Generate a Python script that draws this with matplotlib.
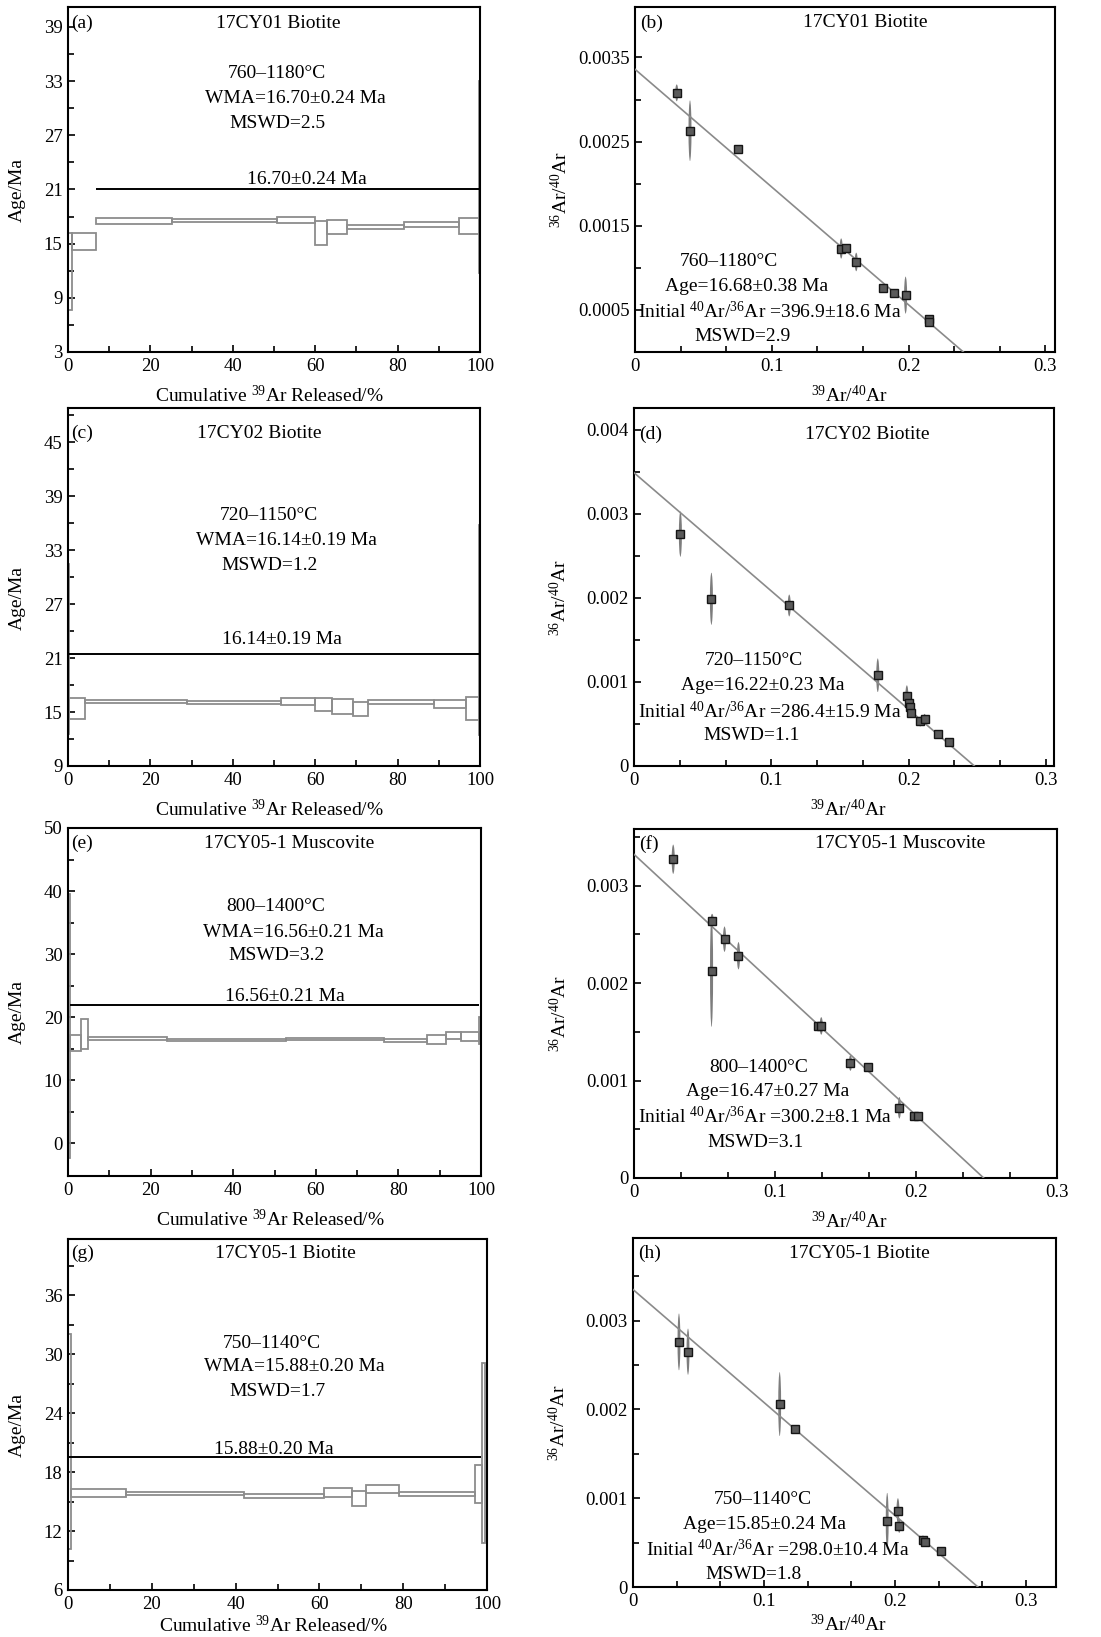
import matplotlib
matplotlib.use('Agg')
import matplotlib.pyplot as plt
from matplotlib.patches import Ellipse
from matplotlib.ticker import FixedLocator, AutoMinorLocator, FuncFormatter
import numpy as np

plt.rcParams['font.family'] = ['Liberation Serif', 'DejaVu Serif']
plt.rcParams['mathtext.fontset'] = 'custom'
plt.rcParams['mathtext.rm'] = 'Liberation Serif'
plt.rcParams['mathtext.it'] = 'Liberation Serif:italic'
plt.rcParams['mathtext.bf'] = 'Liberation Serif:bold'

# ---------------- data: age spectra ----------------
a_cum = [0, 1.0, 6.8, 25.2, 50.8, 60.0, 62.8, 67.8, 81.5, 95.0, 99.7, 100]
a_age = [11.95, 15.25, 17.5, 17.54, 17.6, 16.18, 16.87, 16.8, 17.13, 16.95, 22.35]
a_err = [4.25, 0.95, 0.3, 0.15, 0.37, 1.33, 0.77, 0.22, 0.3, 0.92, 10.65]
a_plat_y = 21.0
a_plat_x = [6.8, 100]

c_cum = [0, 0.3, 4.2, 28.9, 51.7, 60.0, 64.0, 69.1, 72.8, 88.8, 96.6, 99.8, 100]
c_age = [22.05, 15.4, 16.15, 16.05, 16.2, 15.85, 15.65, 15.35, 16.1, 15.9, 15.4, 24.15]
c_err = [9.45, 1.2, 0.15, 0.15, 0.4, 0.75, 0.85, 0.75, 0.2, 0.4, 1.3, 11.65]
c_plat_y = 21.5
c_plat_x = [0, 100]

e_cum = [0, 0.5, 3.1, 4.8, 24.0, 52.8, 76.4, 86.9, 91.5, 95.2, 99.5, 100]
e_age = [18.6, 15.9, 17.3, 16.65, 16.4, 16.5, 16.3, 16.4, 17.15, 16.95, 17.85]
e_err = [21.0, 1.3, 2.4, 0.25, 0.2, 0.2, 0.3, 0.7, 0.55, 0.75, 2.15]
e_plat_y = 21.85
e_plat_x = [0.5, 99.5]

g_cum = [0, 0.7, 13.9, 41.9, 61.0, 67.8, 71.1, 78.9, 97.2, 98.8, 99.6]
g_age = [21.1, 15.87, 15.85, 15.6, 15.9, 15.3, 16.25, 15.8, 16.75, 19.95]
g_err = [10.9, 0.4, 0.15, 0.2, 0.45, 0.8, 0.4, 0.2, 1.95, 9.15]
g_plat_y = 19.5
g_plat_x = [0, 98.6]

# ---------------- data: isochrons ----------------
b_x = [0.0305, 0.0402, 0.0751, 0.1507, 0.1541, 0.1617, 0.1815, 0.1895, 0.1978, 0.2151, 0.2151]
b_y = [0.00308, 0.00263, 0.00241, 0.00123, 0.00124, 0.00107, 0.000755, 0.0007, 0.000676, 0.00039, 0.00036]
b_e = [0.0001, 0.00036, 0.00005, 0.00012, 0.00004, 0.00011, 0.00004, 0.00003, 0.00022, 0.00005, 0.00004]
b_line = (0.00336, 0.240)   # (y-intercept, x-intercept)

d_x = [0.0338, 0.0564, 0.1131, 0.1776, 0.1988, 0.2007, 0.2012, 0.2019, 0.2085, 0.2117, 0.2212, 0.2297]
d_y = [0.00276, 0.00199, 0.00191, 0.00108, 0.00083, 0.00075, 0.0007, 0.00063, 0.00053, 0.00056, 0.00038, 0.00028]
d_e = [0.00027, 0.00031, 0.00013, 0.0002, 0.00013, 0.00004, 0.00004, 0.00004, 0.00006, 0.00006, 0.00003, 0.00003]
d_line = (0.00349, 0.248)

f_x = [0.0278, 0.0554, 0.055, 0.0642, 0.0741, 0.1304, 0.1328, 0.1535, 0.1658, 0.1882, 0.1983, 0.2014]
f_y = [0.00327, 0.00264, 0.00212, 0.00245, 0.00228, 0.00156, 0.00156, 0.00118, 0.00114, 0.00072, 0.00064, 0.00064]
f_e = [0.00015, 0.00007, 0.00057, 0.00013, 0.00014, 0.00004, 0.00009, 0.00008, 0.00004, 0.00011, 0.00003, 0.00003]
f_line = (0.00332, 0.248)

h_x = [0.0351, 0.042, 0.112, 0.1239, 0.1941, 0.2023, 0.2033, 0.2214, 0.2232, 0.2354]
h_y = [0.00276, 0.00265, 0.00206, 0.00178, 0.00074, 0.00086, 0.00069, 0.00053, 0.00051, 0.0004]
h_e = [0.00032, 0.00026, 0.00036, 0.00004, 0.00032, 0.00014, 0.00008, 0.00005, 0.00004, 0.00003]
h_line = (0.00335, 0.2634)

# ---------------- figure ----------------
W, H = 1101, 1637
fig = plt.figure(figsize=(W / 100, H / 100), dpi=100)

TXT = 14
TICK = 13.5
GRAY_BOX = '#8c8c8c'


def add_ax(l, r, t, b):
    ax = fig.add_axes([l / W, 1 - b / H, (r - l) / W, (b - t) / H])
    for s in ax.spines.values():
        s.set_linewidth(1.5)
        s.set_color('black')
    ax.tick_params(which='both', direction='in', labelsize=TICK, pad=4, width=1.2)
    ax.tick_params(which='major', length=5)
    ax.tick_params(which='minor', length=4)
    ax._px = (r - l, b - t)
    return ax


fmt = FuncFormatter(lambda v, p: '%g' % round(v, 6))


def spectrum(ax, cum, age, err, ply, plx, ylim, ymaj, ymin, tag, title, lines, plab, xl_off=33):
    cum = np.asarray(cum, float)
    age = np.asarray(age, float)
    err = np.asarray(err, float)
    ax.bar(cum[:-1], 2 * err, width=np.diff(cum), bottom=age - err, align='edge',
           fill=False, edgecolor=GRAY_BOX, linewidth=1.3, zorder=2)
    ax.hlines(ply, plx[0], plx[1], color='black', lw=1.4, zorder=3)
    ax.set_xlim(0, 100)
    ax.set_ylim(*ylim)
    ax.xaxis.set_major_locator(FixedLocator([0, 20, 40, 60, 80, 100]))
    ax.xaxis.set_minor_locator(FixedLocator([10, 30, 50, 70, 90]))
    ax.yaxis.set_major_locator(FixedLocator(ymaj))
    ax.yaxis.set_minor_locator(FixedLocator(ymin))
    ax.yaxis.set_major_formatter(fmt)
    ax.text(0.008, title[1], tag, transform=ax.transAxes, ha='left', va='center', fontsize=TXT)
    ax.text(title[0], title[1], title[2], transform=ax.transAxes, ha='center', va='center', fontsize=TXT)
    for s, x, y in lines:
        ax.text(x, y, s, transform=ax.transAxes, ha='center', va='center', fontsize=TXT)
    ax.text(plab[1], plab[2], plab[0], transform=ax.transAxes, ha='center', va='center', fontsize=TXT)
    w, h = ax._px
    ax.set_xlabel('Cumulative $^{\\mathrm{39}}$Ar Released/%', fontsize=TXT)
    ax.xaxis.set_label_coords(0.49, -xl_off / h)
    ax.set_ylabel('Age/Ma', fontsize=TXT)
    ax.yaxis.set_label_coords(-42 / w, 0.47)


def isochron(ax, x, y, e, line, xlim, ylim, ymaj, ymin, tag, title, lines, xl_off=33):
    x = np.asarray(x, float)
    y = np.asarray(y, float)
    e = np.asarray(e, float)
    ew = 0.0022
    for xi, yi, ei in zip(x, y, e):
        ax.add_patch(Ellipse((xi, yi), width=ew, height=2 * ei, facecolor='#7d7d7d',
                             edgecolor='none', zorder=2))
    ax.plot([0, line[1]], [line[0], 0], color='#8a8a8a', lw=1.2, zorder=3)
    ax.plot(x, y, 's', ms=5.2, mfc='#5a5a5a', mec='#151515', mew=1.0, zorder=4)
    ax.set_xlim(*xlim)
    ax.set_ylim(*ylim)
    ax.xaxis.set_major_locator(FixedLocator([0, 0.1, 0.2, 0.3]))
    ax.xaxis.set_minor_locator(AutoMinorLocator(3))
    ax.xaxis.set_major_formatter(fmt)
    ax.yaxis.set_major_locator(FixedLocator(ymaj))
    ax.yaxis.set_minor_locator(FixedLocator(ymin))
    ax.yaxis.set_major_formatter(fmt)
    ax.text(0.013, title[1], tag, transform=ax.transAxes, ha='left', va='center', fontsize=TXT)
    ax.text(title[0], title[1], title[2], transform=ax.transAxes, ha='center', va='center', fontsize=TXT)
    for s, xx, yy in lines:
        ax.text(xx, yy, s, transform=ax.transAxes, ha='center', va='center', fontsize=TXT)
    w, h = ax._px
    ax.set_xlabel('$^{\\mathrm{39}}$Ar/$^{\\mathrm{40}}$Ar', fontsize=TXT)
    ax.xaxis.set_label_coords(0.51, -xl_off / h)
    ax.set_ylabel('$^{\\mathrm{36}}$Ar/$^{\\mathrm{40}}$Ar', fontsize=TXT)
    ax.yaxis.set_label_coords(-64 / w, 0.47)


INIT = 'Initial $^{\\mathrm{40}}$Ar/$^{\\mathrm{36}}$Ar =%s Ma'

# (a)
ax = add_ax(68, 480, 7, 352)
spectrum(ax, a_cum, a_age, a_err, a_plat_y, a_plat_x, (3, 41.2),
         [3, 9, 15, 21, 27, 33, 39], [6, 12, 18, 24, 30, 36], '(a)',
         (0.51, 0.953, '17CY01 Biotite'),
         [('760–1180°C', 0.506, 0.806), ('WMA=16.70±0.24 Ma', 0.552, 0.736), ('MSWD=2.5', 0.509, 0.663)],
         ('16.70±0.24 Ma', 0.579, 0.499))

# (b)
ax = add_ax(635, 1055, 7, 352)
isochron(ax, b_x, b_y, b_e, b_line, (0, 0.307), (0, 0.0041),
         [0.0005, 0.0015, 0.0025, 0.0035], [0.001, 0.002, 0.003], '(b)',
         (0.548, 0.954, '17CY01 Biotite'),
         [('760–1180°C', 0.224, 0.261), ('Age=16.68±0.38 Ma', 0.266, 0.191),
          (INIT % '396.9±18.6', 0.321, 0.116), ('MSWD=2.9', 0.256, 0.044)])

# (c)
ax = add_ax(68, 480, 408, 766)
spectrum(ax, c_cum, c_age, c_err, c_plat_y, c_plat_x, (9, 48.8),
         [9, 15, 21, 27, 33, 39, 45], [12, 18, 24, 30, 36, 42, 48], '(c)',
         (0.465, 0.929, '17CY02 Biotite'),
         [('720–1150°C', 0.487, 0.701), ('WMA=16.14±0.19 Ma', 0.531, 0.631), ('MSWD=1.2', 0.489, 0.561)],
         ('16.14±0.19 Ma', 0.519, 0.352))

# (d)
ax = add_ax(634, 1054, 408, 766)
isochron(ax, d_x, d_y, d_e, d_line, (0, 0.306), (0, 0.00426),
         [0, 0.001, 0.002, 0.003, 0.004], [0.0005, 0.0015, 0.0025, 0.0035], '(d)',
         (0.555, 0.927, '17CY02 Biotite'),
         [('720–1150°C', 0.285, 0.294), ('Age=16.22±0.23 Ma', 0.307, 0.224),
          (INIT % '286.4±15.9', 0.323, 0.152), ('MSWD=1.1', 0.281, 0.084)])

# (e)
ax = add_ax(68, 481, 828, 1176)
spectrum(ax, e_cum, e_age, e_err, e_plat_y, e_plat_x, (-5.2, 50),
         [0, 10, 20, 30, 40, 50], [5, 15, 25, 35, 45], '(e)',
         (0.536, 0.955, '17CY05-1 Muscovite'),
         [('800–1400°C', 0.502, 0.773), ('WMA=16.56±0.21 Ma', 0.546, 0.70), ('MSWD=3.2', 0.504, 0.633)],
         ('16.56±0.21 Ma', 0.526, 0.516))

# (f)
ax = add_ax(634, 1057, 829, 1178)
isochron(ax, f_x, f_y, f_e, f_line, (0, 0.3), (0, 0.00358),
         [0, 0.001, 0.002, 0.003], [0.0005, 0.0015, 0.0025, 0.0035], '(f)',
         (0.628, 0.958, '17CY05-1 Muscovite'),
         [('800–1400°C', 0.294, 0.317), ('Age=16.47±0.27 Ma', 0.317, 0.248),
          (INIT % '300.2±8.1', 0.309, 0.175), ('MSWD=3.1', 0.288, 0.101)])

# (g)
ax = add_ax(68, 487, 1239, 1590)
spectrum(ax, g_cum, g_age, g_err, g_plat_y, g_plat_x, (6, 41.7),
         [6, 12, 18, 24, 30, 36], [9, 15, 21, 27, 33, 39], '(g)',
         (0.519, 0.96, '17CY05-1 Biotite'),
         [('750–1140°C', 0.487, 0.703), ('WMA=15.88±0.20 Ma', 0.539, 0.637), ('MSWD=1.7', 0.501, 0.566)],
         ('15.88±0.20 Ma', 0.492, 0.399), xl_off=25)

# (h)
ax = add_ax(633, 1056, 1238, 1587)
isochron(ax, h_x, h_y, h_e, h_line, (0, 0.323), (0, 0.00393),
         [0, 0.001, 0.002, 0.003], [0.0005, 0.0015, 0.0025, 0.0035], '(h)',
         (0.535, 0.957, '17CY05-1 Biotite'),
         [('750–1140°C', 0.308, 0.252), ('Age=15.85±0.24 Ma', 0.312, 0.179),
          (INIT % '298.0±10.4', 0.343, 0.107), ('MSWD=1.8', 0.285, 0.035)], xl_off=27)

fig.savefig('out.png', dpi=100)
